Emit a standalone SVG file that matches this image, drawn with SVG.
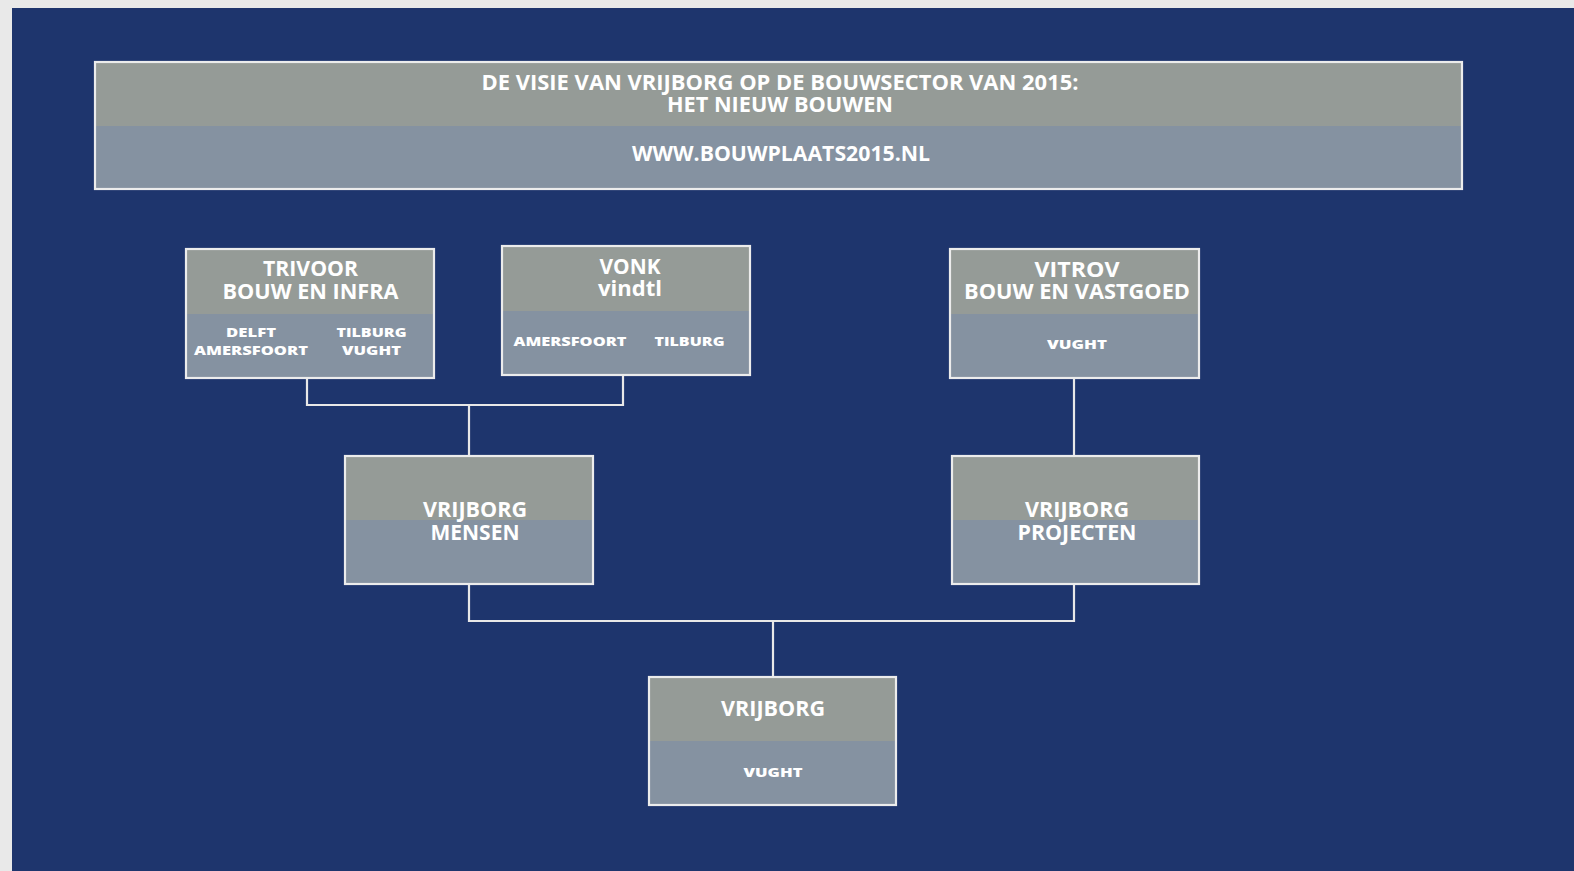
<svg xmlns="http://www.w3.org/2000/svg" width="1574" height="871" viewBox="0 0 1574 871">
<style>
.top{fill:#959b97}
.bot{fill:#8592a1}
.frame{fill:none;stroke:#ececec;stroke-width:2.2}
.big{font-family:"Open Sans","Liberation Sans",sans-serif;font-weight:700;font-size:21px;fill:#ffffff;text-anchor:middle}
.sm{font-family:"Open Sans","Liberation Sans",sans-serif;font-weight:800;font-size:13px;fill:#ffffff;text-anchor:middle}
.conn{fill:none;stroke:#e8e8e8;stroke-width:2.2}
</style>
<rect x="0" y="0" width="1574" height="871" fill="#e9e9e9"/>
<rect x="12" y="8" width="1562" height="863" fill="#1e356d"/>

<g id="header">
<rect class="top" x="95" y="62" width="1367" height="64"/>
<rect class="bot" x="95" y="126" width="1367" height="63"/>
<rect class="frame" x="95" y="62" width="1367" height="127"/>
<text class="big" x="780" y="90" textLength="597" lengthAdjust="spacingAndGlyphs">DE VISIE VAN VRIJBORG OP DE BOUWSECTOR VAN 2015:</text>
<text class="big" x="780" y="112" textLength="226" lengthAdjust="spacingAndGlyphs">HET NIEUW BOUWEN</text>
<text class="big" x="781" y="161" textLength="298" lengthAdjust="spacingAndGlyphs">WWW.BOUWPLAATS2015.NL</text>
</g>

<g id="connectors">
<polyline class="conn" points="307,378 307,405 623,405 623,375"/>
<line class="conn" x1="469" y1="405" x2="469" y2="456"/>
<line class="conn" x1="1074" y1="378" x2="1074" y2="456"/>
<polyline class="conn" points="469,584 469,621 1074,621 1074,584"/>
<line class="conn" x1="773" y1="621" x2="773" y2="677"/>
</g>

<g id="trivoor">
<rect class="top" x="186" y="249" width="248" height="65"/>
<rect class="bot" x="186" y="314" width="248" height="64"/>
<rect class="frame" x="186" y="249" width="248" height="129"/>
<text class="big" x="310.5" y="275.5" textLength="95" lengthAdjust="spacingAndGlyphs">TRIVOOR</text>
<text class="big" x="310.5" y="298.5" textLength="176" lengthAdjust="spacingAndGlyphs">BOUW EN INFRA</text>
<text class="sm" x="251" y="337" textLength="50" lengthAdjust="spacingAndGlyphs">DELFT</text>
<text class="sm" x="251" y="355" textLength="114" lengthAdjust="spacingAndGlyphs">AMERSFOORT</text>
<text class="sm" x="371.5" y="337" textLength="70" lengthAdjust="spacingAndGlyphs">TILBURG</text>
<text class="sm" x="371.5" y="355" textLength="59" lengthAdjust="spacingAndGlyphs">VUGHT</text>
</g>

<g id="vonk">
<rect class="top" x="502" y="246" width="248" height="65"/>
<rect class="bot" x="502" y="311" width="248" height="64"/>
<rect class="frame" x="502" y="246" width="248" height="129"/>
<text class="big" x="630" y="273.5" textLength="61" lengthAdjust="spacingAndGlyphs">VONK</text>
<text class="big" x="630" y="296" textLength="64" lengthAdjust="spacingAndGlyphs">vindtl</text>
<text class="sm" x="570" y="346" textLength="113" lengthAdjust="spacingAndGlyphs">AMERSFOORT</text>
<text class="sm" x="689.5" y="346" textLength="70" lengthAdjust="spacingAndGlyphs">TILBURG</text>
</g>

<g id="vitrov">
<rect class="top" x="950" y="249" width="249" height="65"/>
<rect class="bot" x="950" y="314" width="249" height="64"/>
<rect class="frame" x="950" y="249" width="249" height="129"/>
<text class="big" x="1077" y="276.5" textLength="85" lengthAdjust="spacingAndGlyphs">VITROV</text>
<text class="big" x="1077" y="298.5" textLength="226" lengthAdjust="spacingAndGlyphs">BOUW EN VASTGOED</text>
<text class="sm" x="1077" y="349" textLength="60" lengthAdjust="spacingAndGlyphs">VUGHT</text>
</g>

<g id="vrijborg-mensen">
<rect class="top" x="345" y="456" width="248" height="64"/>
<rect class="bot" x="345" y="520" width="248" height="64"/>
<rect class="frame" x="345" y="456" width="248" height="128"/>
<text class="big" x="475" y="517" textLength="104" lengthAdjust="spacingAndGlyphs">VRIJBORG</text>
<text class="big" x="475" y="539.5" textLength="89" lengthAdjust="spacingAndGlyphs">MENSEN</text>
</g>

<g id="vrijborg-projecten">
<rect class="top" x="952" y="456" width="247" height="64"/>
<rect class="bot" x="952" y="520" width="247" height="64"/>
<rect class="frame" x="952" y="456" width="247" height="128"/>
<text class="big" x="1077" y="517" textLength="104" lengthAdjust="spacingAndGlyphs">VRIJBORG</text>
<text class="big" x="1077" y="539.5" textLength="119" lengthAdjust="spacingAndGlyphs">PROJECTEN</text>
</g>

<g id="vrijborg">
<rect class="top" x="649" y="677" width="247" height="64"/>
<rect class="bot" x="649" y="741" width="247" height="64"/>
<rect class="frame" x="649" y="677" width="247" height="128"/>
<text class="big" x="773" y="715.5" textLength="104" lengthAdjust="spacingAndGlyphs">VRIJBORG</text>
<text class="sm" x="773" y="777" textLength="59" lengthAdjust="spacingAndGlyphs">VUGHT</text>
</g>
</svg>
